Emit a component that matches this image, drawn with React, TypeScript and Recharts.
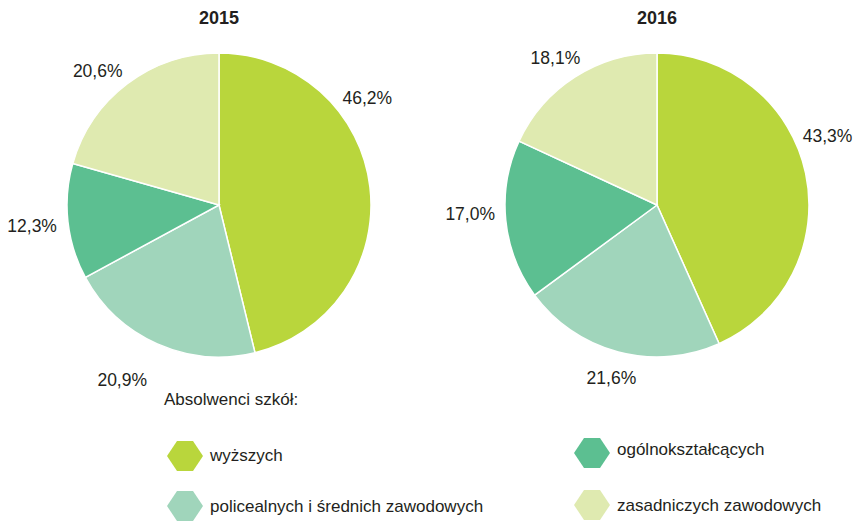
import React from 'react';
import { PieChart, Pie, Cell } from 'recharts';

const categories = [
  'wyższych',
  'policealnych i średnich zawodowych',
  'ogólnokształcących',
  'zasadniczych zawodowych',
];
const values2015 = [46.2, 20.9, 12.3, 20.6];
const values2016 = [43.3, 21.6, 17.0, 18.1];
const years = ['2015', '2016'];
const legendTitle = 'Absolwenci szkół:';

const COLORS = ['#b9d63c', '#a0d5bb', '#5cbf91', '#dfeab0'];
const FONT = '"Liberation Sans", Arial, sans-serif';
const TEXT = '#231f20';
const RAD = Math.PI / 180;

const toRows = (vals: number[]) => categories.map((name, i) => ({ name, value: vals[i] }));
const fmt = (v: number) => `${v.toFixed(1).replace('.', ',')}%`;

// Excel-style label placement: small angle nudge (clockwise deg) + distance from center
const labelTweaks = [
  [{ da: -29, r: 183 }, { da: 5, r: 200 }, { da: 0, r: 188 }, { da: -5, r: 181 }],
  [{ da: -10, r: 184 }, { da: 0, r: 179 }, { da: 3, r: 187 }, { da: -2, r: 179 }],
];

const makeLabel = (chart: number) => (props: any) => {
  const { cx, cy, midAngle, index, value } = props;
  const t = labelTweaks[chart][index];
  const ang = (midAngle - t.da) * RAD;
  const x = cx + t.r * Math.cos(ang);
  const y = cy - t.r * Math.sin(ang);
  return (
    <text
      x={x}
      y={y}
      textAnchor="middle"
      dominantBaseline="central"
      fill={TEXT}
      fontSize={17.5}
      fontFamily={FONT}
    >
      {fmt(value)}
    </text>
  );
};

const Hex = ({ x, y, color }: { x: number; y: number; color: string }) => (
  <polygon
    points={`${x},${y} ${x + 10},${y - 15} ${x + 26},${y - 15} ${x + 36},${y} ${x + 26},${y + 15} ${x + 10},${y + 15}`}
    fill={color}
  />
);

const legendPos = [
  { hx: 167, hy: 456, ty: 455 },
  { hx: 167, hy: 506, ty: 506 },
  { hx: 574, hy: 453, ty: 449 },
  { hx: 574, hy: 505, ty: 505 },
];

export default function App() {
  const centers = [219, 657];
  const datasets = [toRows(values2015), toRows(values2016)];
  return (
    <div style={{ position: 'absolute', left: 0, top: 0, width: 856, height: 522, background: '#fff' }}>
      <PieChart
        width={856}
        height={400}
        margin={{ top: 0, right: 0, bottom: 0, left: 0 }}
        style={{ position: 'absolute', left: 0, top: 0 }}
      >
        {datasets.map((rows, k) => (
          <Pie
            key={years[k]}
            data={rows}
            dataKey="value"
            nameKey="name"
            cx={centers[k]}
            cy={205}
            outerRadius={152}
            startAngle={90}
            endAngle={-270}
            stroke="#ffffff"
            strokeWidth={1.5}
            label={makeLabel(k)}
            labelLine={false}
            isAnimationActive={false}
          >
            {rows.map((r, i) => (
              <Cell key={r.name} fill={COLORS[i]} />
            ))}
          </Pie>
        ))}
      </PieChart>
      <svg width={856} height={522} style={{ position: 'absolute', left: 0, top: 0, pointerEvents: 'none' }}>
        {years.map((y, k) => (
          <text
            key={y}
            x={centers[k]}
            y={18}
            textAnchor="middle"
            dominantBaseline="central"
            fontWeight="bold"
            fontSize={18}
            fontFamily={FONT}
            fill={TEXT}
          >
            {y}
          </text>
        ))}
        <text x={164} y={399} dominantBaseline="central" fontSize={17} fontFamily={FONT} fill={TEXT}>
          {legendTitle}
        </text>
        {categories.map((c, i) => {
          const p = legendPos[i];
          return (
            <g key={c}>
              <Hex x={p.hx} y={p.hy} color={COLORS[i]} />
              <text x={p.hx + 43} y={p.ty} dominantBaseline="central" fontSize={17} fontFamily={FONT} fill={TEXT}>
                {c}
              </text>
            </g>
          );
        })}
      </svg>
    </div>
  );
}
